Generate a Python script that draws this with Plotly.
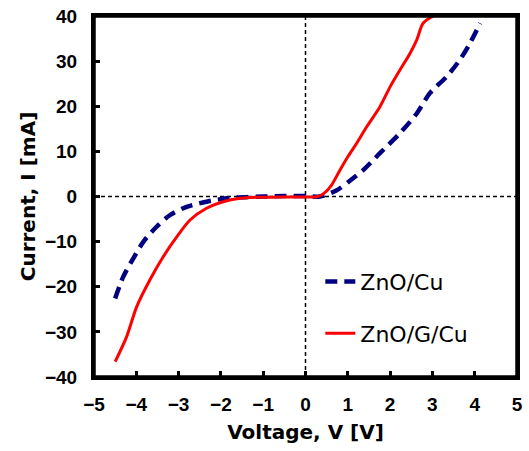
import plotly.graph_objects as go

# ZnO/Cu (blue dashed)
v_cu = [-4.50, -4.31, -4.07, -3.83, -3.52, -3.20, -2.81, -2.34, -1.86, -1.40, -1.00, -0.50, 0.00, 0.34,
        0.74, 1.05, 1.37, 1.76, 2.23, 2.63, 2.94, 3.34, 3.65, 3.89, 4.13]
i_cu = [-22.6, -17.8, -13.7, -10.0, -6.7, -4.1, -2.3, -1.15, -0.4, -0.15, 0.0, 0.1, 0.1, 0.0,
        1.4, 3.5, 5.9, 9.6, 14.0, 18.4, 22.9, 26.6, 30.3, 34.0, 38.4]

# ZnO/G/Cu (red solid)
v_g = [-4.50, -4.23, -3.99, -3.68, -3.36, -3.04, -2.73, -2.34, -1.94, -1.55, -1.31, -0.80, -0.30, 0.00, 0.30,
       0.45, 0.62, 0.80, 1.00, 1.21, 1.45, 1.76, 2.00, 2.23, 2.47, 2.63, 2.78, 3.02]
i_g = [-36.6, -31.1, -24.4, -18.5, -13.3, -8.9, -5.2, -2.6, -1.15, -0.4, -0.2, -0.15, -0.1, -0.1, 0.0,
       0.8, 2.6, 5.6, 8.8, 11.8, 15.5, 19.9, 24.3, 28.0, 31.7, 34.7, 38.4, 40.0]

x_ticks = [-5, -4, -3, -2, -1, 0, 1, 2, 3, 4, 5]
y_ticks = [-40, -30, -20, -10, 0, 10, 20, 30, 40]
x_tick_text = ["\u22125", "\u22124", "\u22123", "\u22122", "\u22121", "0", "1", "2", "3", "4", "5"]
y_tick_text = ["\u221240", "\u221230", "\u221220", "\u221210", "0", "10", "20", "30", "40"]

fig = go.Figure()
fig.add_trace(go.Scatter(x=v_cu, y=i_cu, mode="lines", name="ZnO/Cu",
                         line=dict(color="#000080", width=4.5, dash="12px,7px", shape="spline", smoothing=0.8),
                         legendgroup="a"))
fig.add_trace(go.Scatter(x=v_g, y=i_g, mode="lines", name="ZnO/G/Cu",
                         line=dict(color="#ff0000", width=3, shape="spline", smoothing=0.8),
                         legendgroup="b"))

fig.add_shape(type="line", xref="x", yref="y", x0=0, x1=0, y0=-40, y1=40,
              line=dict(color="black", width=1.5, dash="4px,3px"), layer="below")
fig.add_shape(type="line", xref="x", yref="y", x0=-5, x1=5, y0=0, y1=0,
              line=dict(color="black", width=1.5, dash="4px,3px"), layer="below")
# plot frame
fig.add_shape(type="rect", xref="x domain", yref="y domain", x0=0, x1=1, y0=0, y1=1,
              line=dict(color="black", width=3.5), fillcolor="rgba(0,0,0,0)", layer="above")

tickfont = dict(family="Liberation Sans, Arial, sans-serif", size=19, color="black", weight="bold")
titlefont = dict(family="DejaVu Sans, sans-serif", size=20, color="black", weight="bold")

fig.update_layout(
    width=529, height=451,
    margin=dict(l=94, r=12, t=16, b=74, autoexpand=False),
    paper_bgcolor="white", plot_bgcolor="white",
    showlegend=True,
    legend=dict(x=0.535, y=0.322, xanchor="left", yanchor="top",
                bgcolor="rgba(0,0,0,0)", traceorder="grouped", tracegroupgap=20,
                font=dict(family="DejaVu Sans, sans-serif", size=22, color="black")),
    xaxis=dict(range=[-5, 5], tickvals=x_ticks, ticktext=x_tick_text, automargin=False,
               showgrid=False, zeroline=False, showline=True, linecolor="black", linewidth=3,
               mirror=True, ticks="inside", ticklen=6, tickwidth=2.5, tickcolor="black",
               ticklabelstandoff=8,
               tickfont=tickfont, title=dict(text="Voltage, V [V]", font=titlefont, standoff=12)),
    yaxis=dict(range=[-40, 40], tickvals=y_ticks, ticktext=y_tick_text, automargin=False,
               showgrid=False, zeroline=False, showline=True, linecolor="black", linewidth=3,
               mirror=True, ticks="inside", ticklen=6, tickwidth=2.5, tickcolor="black",
               ticklabelstandoff=10,
               tickfont=tickfont, title=dict(text="Current, I [mA]", font=titlefont, standoff=4)),
)

fig.write_html("out.html")
